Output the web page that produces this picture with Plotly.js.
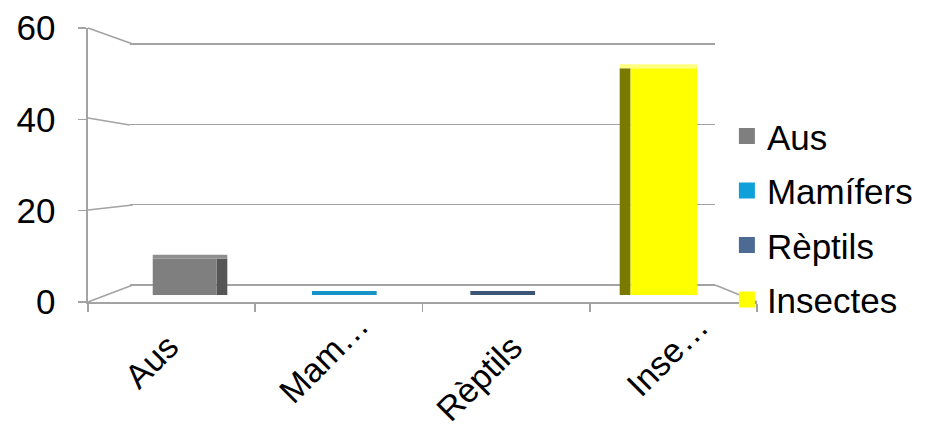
<!DOCTYPE html>
<html><head><meta charset="utf-8">
<script src="https://cdn.plot.ly/plotly-3.0.1.min.js"></script>
<style>html,body{margin:0;padding:0;background:#fff}</style>
</head><body><div id="chart" style="width:930px;height:427px"></div>
<script>
// ---- data ----
const categories = ['Aus', 'Mamífers', 'Rèptils', 'Insectes'];
const tickLabels = ['Aus', 'Mam…', 'Rèptils', 'Inse…'];
const seriesNames = ['Aus', 'Mamífers', 'Rèptils', 'Insectes'];
const seriesValues = [8, 0, 0, 50];
const yTicks = [0, 20, 40, 60];

// ---- styles ----
const FONT = 'Arial, "Liberation Sans", sans-serif';
const frontColors = ['#7f7f7f', '#139fd6', '#4b6990', '#ffff00'];
const sideColors = ['#565656', '#0b6f99', '#2f4562', '#7a7a00'];
const topColors = ['#8f8f8f', '#1592c6', '#3d5575', '#ffff80'];
const legendColors = ['#7f7f7f', '#0ea0d8', '#4c6a92', '#ffff00'];
const frontOffset = [-0.113, -0.161, -0.214, -0.256];
const frontWidth = [0.381, 0.387, 0.387, 0.399];
const sideOffset = [0.268, 0.226, 0.173, -0.321];
const sideWidth = 0.065;
const topOffset = [-0.113, -0.161, -0.214, -0.321];
const topWidth = [0.446, 0.387, 0.387, 0.464];
const TOP_DEPTH = 0.9;
const GRID = '#a3a3a3';
const labelShiftX = [17, 40, 26, 45];
const labelShiftY = [-22, -1, -23, -2];

const traces = [];
// anchor the back-wall subplot (no visible marks)
traces.push({type: 'scatter', mode: 'markers', x: [null], y: [null], xaxis: 'x', yaxis: 'y',
  showlegend: false, hoverinfo: 'skip'});
seriesNames.forEach((name, i) => {
  const common = {type: 'bar', x: [categories[i]], xaxis: 'x2', yaxis: 'y3',
                  showlegend: false, hoverinfo: 'skip'};
  traces.push(Object.assign({}, common, {y: [seriesValues[i]], offset: sideOffset[i], width: sideWidth,
    marker: {color: sideColors[i], line: {width: 0}}}));
  traces.push(Object.assign({}, common, {y: [seriesValues[i]], offset: frontOffset[i], width: frontWidth[i],
    marker: {color: frontColors[i], line: {width: 0}}}));
  traces.push(Object.assign({}, common, {y: [TOP_DEPTH], base: [seriesValues[i]], offset: topOffset[i], width: topWidth[i],
    marker: {color: topColors[i], line: {width: 0}}}));
});
// legend entries (on the front axes)
seriesNames.forEach((name, i) => {
  traces.push({type: 'scatter', mode: 'markers', name: name, x: [categories[i]], y: [null],
    xaxis: 'x2', yaxis: 'y2', legendgroup: 'g' + i, hoverinfo: 'skip',
    marker: {symbol: 'square', size: 16, color: legendColors[i]}});
});

// plot area: x 88..760 px, y 23..302 px
const px = v => (v - 88) / 672;
const py = v => (302 - v) / 279;
const lineShape = (x0, y0, x1, y1) => ({type: 'line', xref: 'paper', yref: 'paper', layer: 'below',
  x0: px(x0), y0: py(y0), x1: px(x1), y1: py(y1), line: {color: GRID, width: 1.6}});
const backUnit = (285 - 44) / 60; // px per unit on the back wall

const layout = {
  width: 930, height: 427, autosize: false,
  margin: {l: 88, r: 170, t: 23, b: 125, pad: 0},
  paper_bgcolor: '#ffffff', plot_bgcolor: 'rgba(0,0,0,0)',
  font: {family: FONT, size: 35, color: '#000000'},
  barmode: 'overlay',
  showlegend: true,
  legend: {x: 0.955, xanchor: 'left', y: 0.70, yanchor: 'top', bgcolor: 'rgba(0,0,0,0)',
    font: {family: FONT, size: 35, color: '#000'}, tracegroupgap: 6, traceorder: 'grouped'},
  // back wall grid
  xaxis: {domain: [px(130), px(718)], anchor: 'y', visible: false, range: [0, 1], fixedrange: true},
  yaxis: {domain: [py(285 + backUnit), py(44 - backUnit)], anchor: 'x', range: [-1, 61], tickmode: 'array', tickvals: yTicks,
    showgrid: true, gridcolor: GRID, gridwidth: 1.6, zeroline: false, showline: false,
    showticklabels: false, ticks: ''},
  // front axes
  xaxis2: {domain: [0, 1], anchor: 'y2', type: 'category', categoryorder: 'array', categoryarray: categories,
    tickmode: 'array', tickvals: categories, showticklabels: false,
    tickson: 'boundaries', ticks: 'outside', ticklen: 8, tickwidth: 1.6, tickcolor: GRID,
    showline: true, linecolor: GRID, linewidth: 1.6, showgrid: false, zeroline: false},
  yaxis2: {domain: [0, py(28)], anchor: 'x2', range: [0, 60], tickmode: 'array', tickvals: yTicks,
    ticks: 'outside', ticklen: 8, tickwidth: 1.6, tickcolor: GRID, showline: true, linecolor: GRID,
    linewidth: 1.6, showgrid: false, zeroline: false, ticklabelstandoff: 16,
    tickfont: {family: FONT, size: 35, color: '#000'}},
  // bar depth scale
  yaxis3: {domain: [py(295), 1], anchor: 'x2', range: [0, 60], visible: false, showgrid: false, zeroline: false},
  annotations: categories.map((c, i) => ({
    x: c, xref: 'x2', y: 0, yref: 'y2', text: tickLabels[i], textangle: -45,
    xanchor: 'right', yanchor: 'top', showarrow: false,
    xshift: labelShiftX[i], yshift: labelShiftY[i],
    font: {family: FONT, size: 34, color: '#000'}
  })),
  shapes: [
    lineShape(88, 28, 133, 44),
    lineShape(88, 118, 130, 125),
    lineShape(88, 210, 133, 205),
    lineShape(88, 302, 133, 285),
    lineShape(718, 285, 760, 302)
  ]
};

Plotly.newPlot('chart', traces, layout, {staticPlot: true, displayModeBar: false});
</script>
</body></html>
